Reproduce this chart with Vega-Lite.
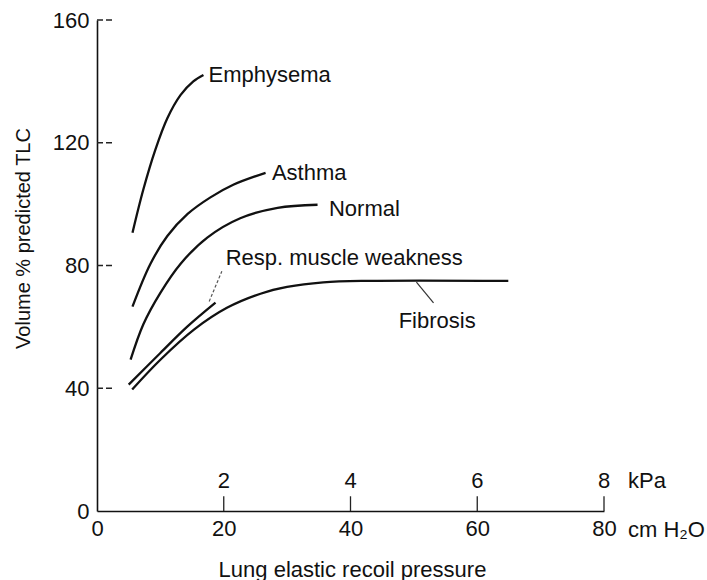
{
  "$schema": "https://vega.github.io/schema/vega-lite/v6.json",
  "width": 507,
  "height": 491,
  "autosize": "none",
  "padding": {"left": 97, "top": 20, "right": 103, "bottom": 69},
  "background": "white",
  "config": {
    "view": {"stroke": null},
    "font": "Liberation Sans",
    "text": {"font": "Liberation Sans", "color": "#111"}
  },
  "datasets": {
    "curves": [
      {"series": "Emphysema", "p": 5.6, "v": 90.7},
      {"series": "Emphysema", "p": 7.3, "v": 104.7},
      {"series": "Emphysema", "p": 9.2, "v": 117.7},
      {"series": "Emphysema", "p": 11.1, "v": 128.0},
      {"series": "Emphysema", "p": 13.2, "v": 135.6},
      {"series": "Emphysema", "p": 15.2, "v": 140.0},
      {"series": "Emphysema", "p": 16.8, "v": 142.1},
      {"series": "Asthma", "p": 5.6, "v": 66.6},
      {"series": "Asthma", "p": 8.4, "v": 80.4},
      {"series": "Asthma", "p": 11.1, "v": 89.6},
      {"series": "Asthma", "p": 14.3, "v": 96.8},
      {"series": "Asthma", "p": 17.9, "v": 102.2},
      {"series": "Asthma", "p": 21.5, "v": 106.3},
      {"series": "Asthma", "p": 26.6, "v": 110.2},
      {"series": "Normal", "p": 5.3, "v": 49.3},
      {"series": "Normal", "p": 7.3, "v": 60.8},
      {"series": "Normal", "p": 10.0, "v": 71.1},
      {"series": "Normal", "p": 13.2, "v": 80.6},
      {"series": "Normal", "p": 17.4, "v": 89.1},
      {"series": "Normal", "p": 22.6, "v": 95.4},
      {"series": "Normal", "p": 28.5, "v": 98.8},
      {"series": "Normal", "p": 34.8, "v": 99.8},
      {"series": "Resp. muscle weakness", "p": 5.0, "v": 41.2},
      {"series": "Resp. muscle weakness", "p": 10.0, "v": 51.5},
      {"series": "Resp. muscle weakness", "p": 14.2, "v": 60.0},
      {"series": "Resp. muscle weakness", "p": 18.7, "v": 67.9},
      {"series": "Fibrosis", "p": 5.55, "v": 39.6},
      {"series": "Fibrosis", "p": 10.0, "v": 49.3},
      {"series": "Fibrosis", "p": 15.3, "v": 59.1},
      {"series": "Fibrosis", "p": 20.5, "v": 66.2},
      {"series": "Fibrosis", "p": 25.8, "v": 70.8},
      {"series": "Fibrosis", "p": 30.0, "v": 73.0},
      {"series": "Fibrosis", "p": 35.7, "v": 74.5},
      {"series": "Fibrosis", "p": 42.7, "v": 75.0},
      {"series": "Fibrosis", "p": 64.9, "v": 75.0}
    ],
    "curveLabels": [
      {"label": "Emphysema", "p": 17.6, "v": 142.1},
      {"label": "Asthma", "p": 27.6, "v": 110.3},
      {"label": "Normal", "p": 36.6, "v": 98.4},
      {"label": "Resp. muscle weakness", "p": 20.3, "v": 82.4},
      {"label": "Fibrosis", "p": 47.6, "v": 61.8}
    ],
    "dashedLeader": [
      {"p": 17.7, "v": 68.3},
      {"p": 19.7, "v": 78.1}
    ],
    "solidLeader": [
      {"p": 50.4, "v": 74.6},
      {"p": 53.1, "v": 67.8}
    ],
    "yTicks": [{"v": 40}, {"v": 80}, {"v": 120}, {"v": 160}],
    "kPa": [
      {"p": 20, "k": "2"},
      {"p": 40, "k": "4"},
      {"p": 60, "k": "6"},
      {"p": 80, "k": "8"}
    ]
  },
  "layer": [
    {
      "data": {"name": "curves"},
      "mark": {"type": "line", "interpolate": "catmull-rom", "color": "#111", "strokeWidth": 2.3},
      "encoding": {
        "x": {
          "field": "p",
          "type": "quantitative",
          "scale": {"domain": [0, 80], "nice": false, "zero": false},
          "axis": {
            "title": "Lung elastic recoil pressure",
            "values": [0, 20, 40, 60, 80],
            "ticks": false,
            "grid": false,
            "domainColor": "#111",
            "domainWidth": 1.6,
            "labelFontSize": 22,
            "labelColor": "#111",
            "labelPadding": 7,
            "labelFlush": false,
            "labelOverlap": false,
            "titleFontSize": 22,
            "titleFontWeight": "normal",
            "titleColor": "#111",
            "titleX": 255,
            "titleY": 65,
            "titleBaseline": "alphabetic"
          }
        },
        "y": {
          "field": "v",
          "type": "quantitative",
          "scale": {"domain": [0, 160], "nice": false},
          "axis": {
            "title": "Volume % predicted TLC",
            "values": [0, 40, 80, 120, 160],
            "ticks": false,
            "grid": false,
            "domainColor": "#111",
            "domainWidth": 1.6,
            "labelFontSize": 22,
            "labelColor": "#111",
            "labelPadding": 8,
            "labelFlush": false,
            "labelOverlap": false,
            "titleFontSize": 20,
            "titleFontWeight": "normal",
            "titleColor": "#111",
            "titleX": -68,
            "titleY": 218,
            "titleBaseline": "alphabetic"
          }
        },
        "detail": {"field": "series"}
      }
    },
    {
      "data": {"name": "yTicks"},
      "mark": {"type": "rule", "color": "#222", "strokeWidth": 1.3, "strokeDash": [6, 3]},
      "encoding": {
        "y": {"field": "v", "type": "quantitative"},
        "x": {"datum": 0, "type": "quantitative"},
        "x2": {"datum": 2.4}
      }
    },
    {
      "data": {"name": "kPa"},
      "mark": {"type": "rule", "color": "#222", "strokeWidth": 1.3},
      "encoding": {
        "x": {"field": "p", "type": "quantitative"},
        "y": {"datum": 0, "type": "quantitative"},
        "y2": {"datum": 4.8}
      }
    },
    {
      "data": {"name": "kPa"},
      "mark": {"type": "text", "fontSize": 22, "align": "center", "baseline": "middle"},
      "encoding": {
        "x": {"field": "p", "type": "quantitative"},
        "y": {"datum": 9.9, "type": "quantitative"},
        "text": {"field": "k"}
      }
    },
    {
      "data": {"values": [{"u": "kPa"}]},
      "mark": {"type": "text", "fontSize": 22, "align": "left", "baseline": "middle", "dx": 24},
      "encoding": {
        "x": {"datum": 80, "type": "quantitative"},
        "y": {"datum": 9.9, "type": "quantitative"},
        "text": {"field": "u"}
      }
    },
    {
      "data": {"values": [{"u": "cm H₂O"}]},
      "mark": {"type": "text", "fontSize": 22, "align": "left", "baseline": "middle", "dx": 24, "dy": 18.5},
      "encoding": {
        "x": {"datum": 80, "type": "quantitative"},
        "y": {"datum": 0, "type": "quantitative"},
        "text": {"field": "u"}
      }
    },
    {
      "data": {"name": "dashedLeader"},
      "mark": {"type": "line", "color": "#555", "strokeWidth": 1.2, "strokeDash": [3, 2]},
      "encoding": {
        "x": {"field": "p", "type": "quantitative"},
        "y": {"field": "v", "type": "quantitative"}
      }
    },
    {
      "data": {"name": "solidLeader"},
      "mark": {"type": "line", "color": "#333", "strokeWidth": 1.2},
      "encoding": {
        "x": {"field": "p", "type": "quantitative"},
        "y": {"field": "v", "type": "quantitative"}
      }
    },
    {
      "data": {"name": "curveLabels"},
      "mark": {"type": "text", "fontSize": 22, "align": "left", "baseline": "middle"},
      "encoding": {
        "x": {"field": "p", "type": "quantitative"},
        "y": {"field": "v", "type": "quantitative"},
        "text": {"field": "label"}
      }
    }
  ]
}
